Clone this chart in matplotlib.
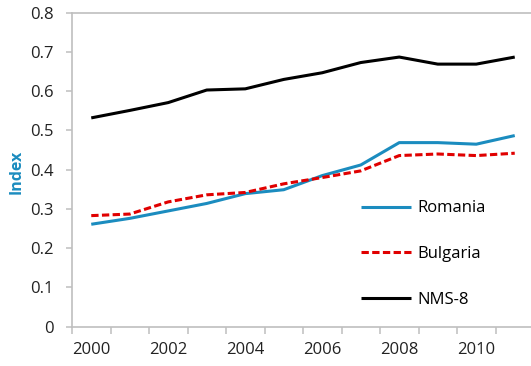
import numpy as np
import matplotlib
matplotlib.use("Agg")
import matplotlib.pyplot as plt

years = list(range(2000, 2012))
romania = [0.261, 0.276, 0.295, 0.314, 0.339, 0.349, 0.385, 0.412, 0.469, 0.469, 0.465, 0.487]
bulgaria = [0.283, 0.287, 0.318, 0.336, 0.342, 0.364, 0.380, 0.397, 0.436, 0.440, 0.436, 0.442]
nms8 = [0.532, 0.551, 0.571, 0.603, 0.606, 0.630, 0.647, 0.673, 0.687, 0.669, 0.669, 0.687]
y_ticks = [0, 0.1, 0.2, 0.3, 0.4, 0.5, 0.6, 0.7, 0.8]
y_ticklabels = ["0", "0.1", "0.2", "0.3", "0.4", "0.5", "0.6", "0.7", "0.8"]

plt.rcParams["font.family"] = ["Open Sans", "DejaVu Sans"]
plt.rcParams["font.size"] = 12

W, H = 531, 366
fig = plt.figure(figsize=(W / 100, H / 100), dpi=100)
left, right, top, bottom = 72, 72 + 12 * 38.5, 12.7, 326.7
ax = fig.add_axes([left / W, 1 - bottom / H, (right - left) / W, (bottom - top) / H])

x = np.arange(len(years))
blue = "#1B8CBF"
ax.plot(x, romania, color=blue, lw=2.2, label="Romania", solid_capstyle="butt")
ax.plot(x, bulgaria, color="#E00000", lw=2.2, dashes=(2.4, 1.1), label="Bulgaria")
ax.plot(x, nms8, color="black", lw=2.2, label="NMS-8", solid_capstyle="butt")

ax.set_xlim(-0.5, len(years) - 0.5)
ax.set_ylim(0, 0.8)

grey = "#BFBFBF"
for side in ["left", "bottom", "top"]:
    ax.spines[side].set_color(grey)
    ax.spines[side].set_linewidth(1.2)
ax.spines["right"].set_visible(False)

ax.set_yticks(y_ticks)
ax.set_yticklabels(y_ticklabels)
ax.tick_params(axis="y", direction="out", length=4, width=1.1, color=grey,
               pad=9, labelcolor="#222222")

ax.set_xticks(x[::2])
ax.set_xticklabels([str(y) for y in years[::2]])
ax.set_xticks(np.arange(-0.5, len(years) + 0.5, 1), minor=True)
ax.tick_params(axis="x", which="major", length=0, pad=11, labelcolor="#222222")
ax.tick_params(axis="x", which="minor", direction="out", length=5, width=1.1, color=grey)

fig.text(17 / W, 1 - 172 / H, "Index", rotation=90, ha="center", va="center",
         fontweight="bold", color=blue, fontsize=11.5)

ax.legend(loc="upper left", bbox_to_anchor=(361 / W, 1 - 200.5 / H),
          bbox_transform=fig.transFigure, frameon=False, borderpad=0,
          borderaxespad=0, handlelength=3.0, handletextpad=0.36,
          labelspacing=1.78, fontsize=12)

fig.savefig("out.png", dpi=100)
